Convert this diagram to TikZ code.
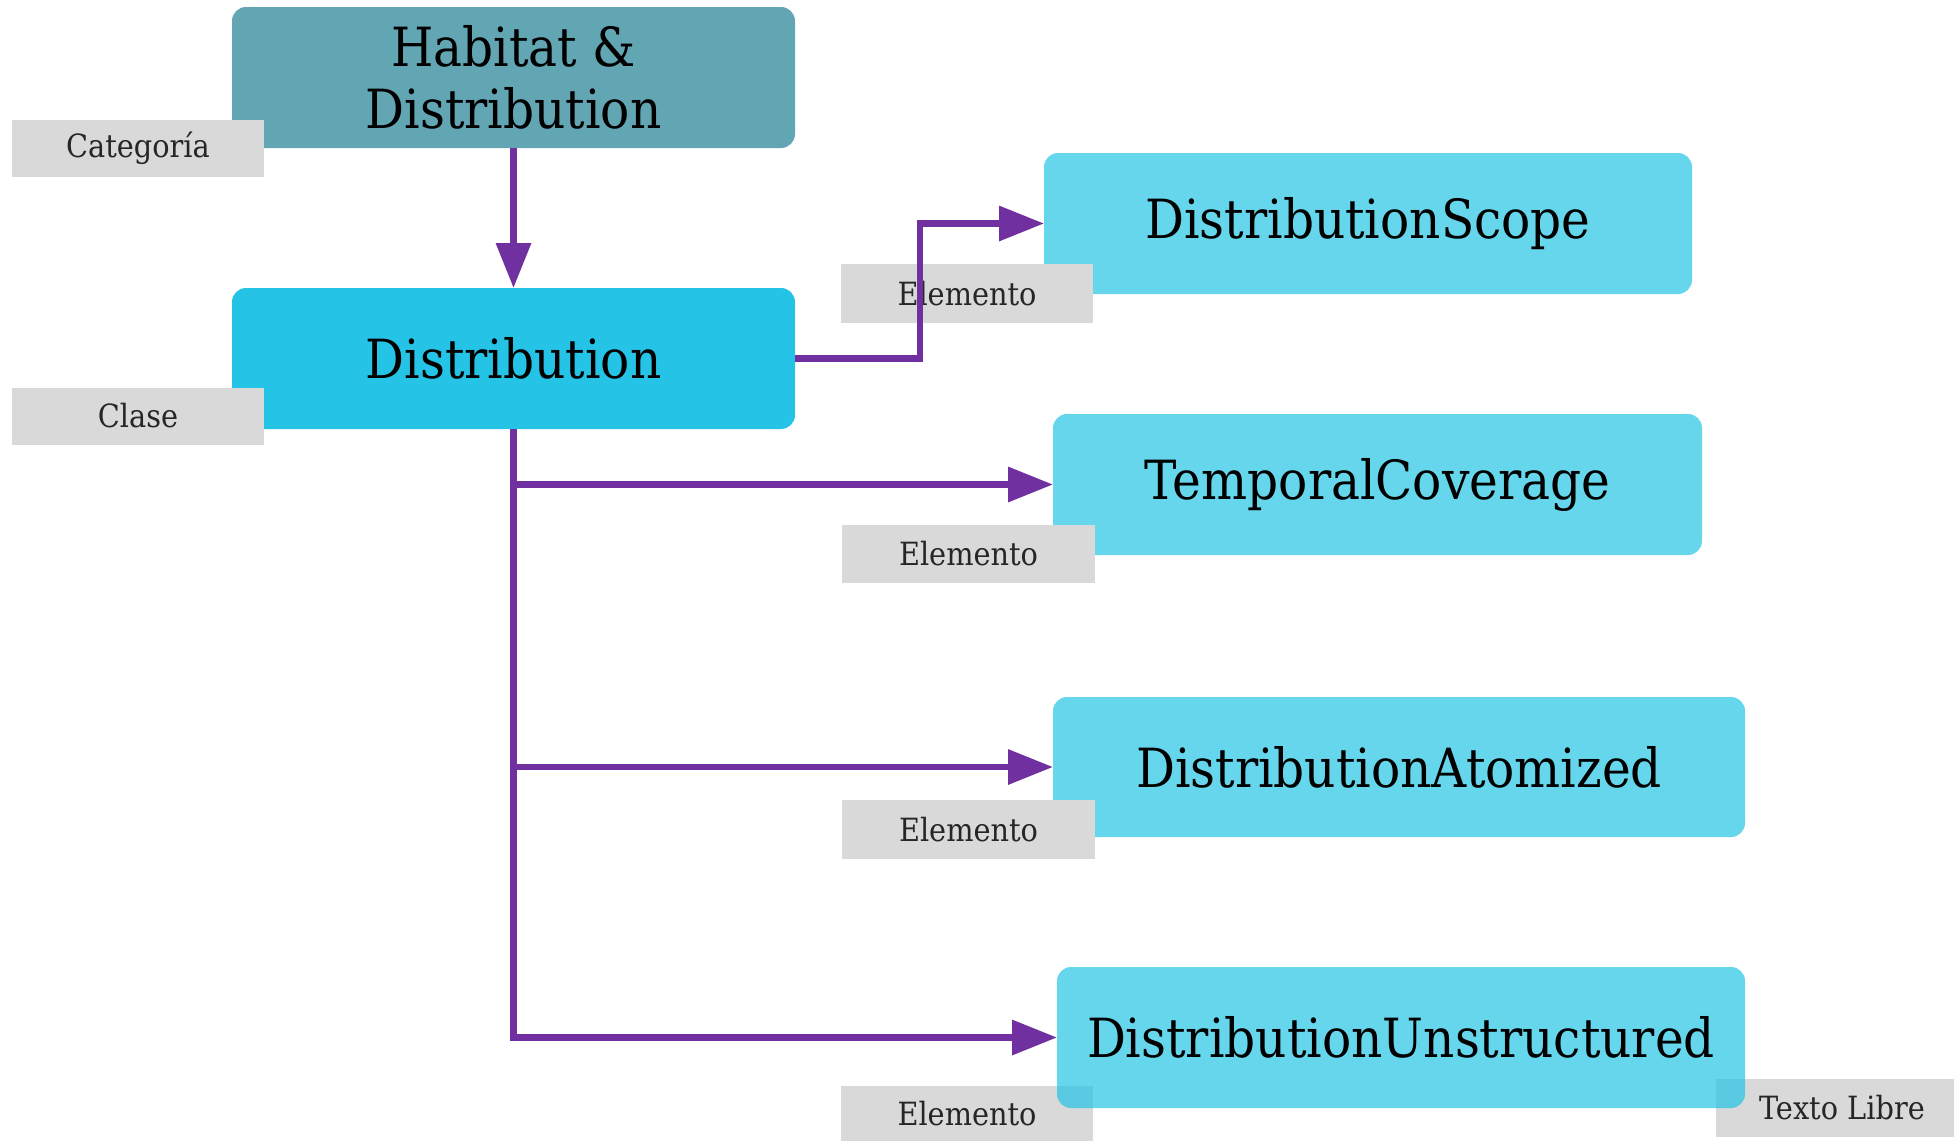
\documentclass[tikz,border=0pt]{standalone}
\usepackage{fontspec}
\setmainfont{DejaVu Serif Condensed}
\usetikzlibrary{arrows.meta}
\definecolor{habcol}{HTML}{62A5B3}
\definecolor{distcol}{HTML}{25C4E6}
\definecolor{elemcol}{HTML}{66D6EC}
\definecolor{labcol}{HTML}{D9D9D9}
\definecolor{conncol}{HTML}{7030A0}
\tikzset{
  box/.style={rectangle, rounded corners=14pt, inner sep=0pt, outer sep=0pt, align=center,
    font=\fontsize{54}{62}\selectfont, text=black},
  tag/.style={rectangle, fill=labcol, inner sep=0pt, outer sep=0pt,
    font=\fontsize{32}{38}\selectfont, text=black!85},
  conn/.style={draw=conncol, line width=6.5pt},
  arr/.style={conn, -{Triangle[length=45pt, width=34pt]}},
}
\begin{document}
\begin{tikzpicture}[x=1pt, y=-1pt]
\useasboundingbox (0,0) rectangle (1954,1141);
% main boxes
\node[box, fill=habcol, minimum width=563pt, minimum height=141pt] (hab) at (513.5,77.5) {Habitat \&\\Distribution};
\node[box, fill=distcol, minimum width=563pt, minimum height=141pt] (dist) at (513.5,358.5) {Distribution};
\node[box, fill=elemcol, minimum width=648pt, minimum height=141pt] (scope) at (1368,223.5) {\raisebox{-3pt}{DistributionScope}};
\node[box, fill=elemcol, minimum width=649pt, minimum height=141pt] (temp) at (1377.5,484.5) {TemporalCoverage};
\node[box, fill=elemcol, minimum width=692pt, minimum height=140pt] (atom) at (1399,767) {DistributionAtomized};
% labels
\node[tag, minimum width=252pt, minimum height=57pt] (lcat) at (138,148.5) {Categoría};
\node[tag, minimum width=252pt, minimum height=57pt] (lcla) at (138,416) {Clase};
\node[tag, minimum width=252pt, minimum height=59pt] (le1) at (967,293.5) {Elemento};
\node[tag, minimum width=253pt, minimum height=58pt] (le2) at (968.5,554) {Elemento};
\node[tag, minimum width=253pt, minimum height=59pt] (le3) at (968.5,829.5) {Elemento};
\node[tag, minimum width=252pt, minimum height=55pt] (le4) at (967,1113.5) {Elemento};
\node[tag, minimum width=252pt, minimum height=58pt] (ltl) at (1842,1108) {Texto Libre};
% semi-transparent last box
\node[box, fill=distcol, fill opacity=0.7, text opacity=1, minimum width=688pt, minimum height=141pt] (unst) at (1401,1037.5) {DistributionUnstructured};
% connectors
\coordinate (bend) at (920,0);
\draw[arr] (hab.south) -- (dist.north);
\draw[arr] (dist.east) -- (dist.east -| bend) -- (bend |- scope.west) -- (scope.west);
\draw[conn] (dist.south) -- (dist.south |- unst.west);
\draw[arr] (dist.south |- temp.west) -- (temp.west);
\draw[arr] (dist.south |- atom.west) -- (atom.west);
\draw[arr] ([xshift=-3.25pt]dist.south |- unst.west) -- (unst.west);
\end{tikzpicture}
\end{document}
